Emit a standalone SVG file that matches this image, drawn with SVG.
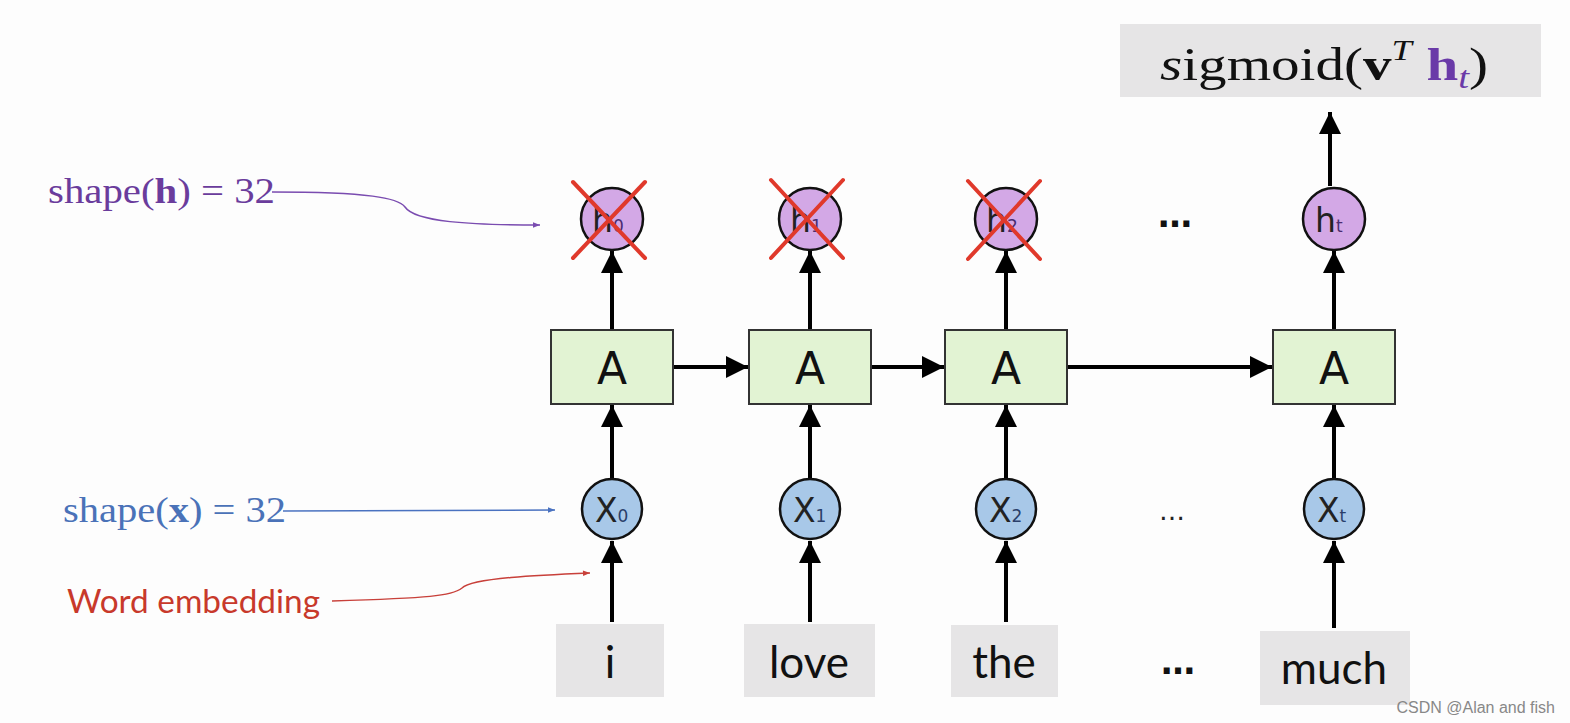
<svg xmlns="http://www.w3.org/2000/svg" width="1570" height="723" viewBox="0 0 1570 723">
<style>
.cell{fill:#e2f3d3;stroke:#333;stroke-width:2}
.hc{fill:#d3a8e6;stroke:#111;stroke-width:2.5}
.xc{fill:#a8c8e8;stroke:#111;stroke-width:2.5}
.word{fill:#e6e5e6}
.wt{font-family:Lato,"Open Sans",sans-serif;font-size:44px;fill:#111;text-anchor:middle}
.at{font-family:"DejaVu Sans",sans-serif;font-size:44px;fill:#111;text-anchor:middle}
.nt{font-family:"DejaVu Sans",sans-serif;font-size:33px;fill:#222}
.sub{font-size:17px}
.conn{stroke:#000;stroke-width:4;fill:none}
.cross{stroke:#e0392b;stroke-width:4;stroke-linecap:round}
.dots{font-family:"DejaVu Sans",sans-serif;font-size:34px;font-weight:bold;fill:#111;text-anchor:middle}
.dots-s{font-family:"DejaVu Sans",sans-serif;font-size:26px;fill:#222;text-anchor:middle}
.math{font-family:"Liberation Serif","DejaVu Serif",serif}
</style>
<defs>
<marker id="ah" viewBox="0 0 10 10" refX="10" refY="5" markerWidth="5.5" markerHeight="5.5" markerUnits="strokeWidth" orient="auto">
<path d="M0,0 L10,5 L0,10 z" fill="#000"/>
</marker>
<marker id="ap" viewBox="0 0 10 10" refX="10" refY="5" markerWidth="8" markerHeight="7" markerUnits="userSpaceOnUse" orient="auto">
<path d="M0,1 L10,5 L0,9 z" fill="#7a4cb0"/>
</marker>
<marker id="ab" viewBox="0 0 10 10" refX="10" refY="5" markerWidth="9" markerHeight="7" markerUnits="userSpaceOnUse" orient="auto">
<path d="M0,1 L10,5 L0,9 z" fill="#4a72c0"/>
</marker>
<marker id="ar" viewBox="0 0 10 10" refX="10" refY="5" markerWidth="9" markerHeight="7" markerUnits="userSpaceOnUse" orient="auto">
<path d="M0,1 L10,5 L0,9 z" fill="#c8403a"/>
</marker>
</defs>
<rect width="1570" height="723" fill="#fdfdfd"/>

<g id="connectors">
<line class="conn" x1="612" y1="622" x2="612" y2="541" marker-end="url(#ah)"/>
<line class="conn" x1="810" y1="622" x2="810" y2="541" marker-end="url(#ah)"/>
<line class="conn" x1="1006" y1="622" x2="1006" y2="541" marker-end="url(#ah)"/>
<line class="conn" x1="1334" y1="628" x2="1334" y2="541" marker-end="url(#ah)"/>
<line class="conn" x1="612" y1="478" x2="612" y2="405" marker-end="url(#ah)"/>
<line class="conn" x1="810" y1="478" x2="810" y2="405" marker-end="url(#ah)"/>
<line class="conn" x1="1006" y1="478" x2="1006" y2="405" marker-end="url(#ah)"/>
<line class="conn" x1="1334" y1="478" x2="1334" y2="405" marker-end="url(#ah)"/>
<line class="conn" x1="612" y1="330" x2="612" y2="251" marker-end="url(#ah)"/>
<line class="conn" x1="810" y1="330" x2="810" y2="251" marker-end="url(#ah)"/>
<line class="conn" x1="1006" y1="330" x2="1006" y2="251" marker-end="url(#ah)"/>
<line class="conn" x1="1334" y1="330" x2="1334" y2="251" marker-end="url(#ah)"/>
<line class="conn" x1="673" y1="367" x2="748" y2="367" marker-end="url(#ah)"/>
<line class="conn" x1="871" y1="367" x2="944" y2="367" marker-end="url(#ah)"/>
<line class="conn" x1="1067" y1="367" x2="1272" y2="367" marker-end="url(#ah)"/>
<line class="conn" x1="1330" y1="186" x2="1330" y2="112" marker-end="url(#ah)"/>
<path d="M272,192 C370,192 398,198 405,207 C415,222 470,225 540,225" fill="none" stroke="#7a4cb0" stroke-width="1.5" marker-end="url(#ap)"/>
<path d="M283,511 L555,510" fill="none" stroke="#4a72c0" stroke-width="1.5" marker-end="url(#ab)"/>
<path d="M332,601 C430,598 452,596 462,588 C472,578 540,575 590,573" fill="none" stroke="#c8403a" stroke-width="1.5" marker-end="url(#ar)"/>
</g>

<g id="sigmoid">
<rect x="1120" y="24" width="421" height="73" fill="#e6e5e6"/>
<text x="1160" y="80" class="math" font-size="47" fill="#111" textLength="328" lengthAdjust="spacingAndGlyphs"><tspan font-style="italic">s</tspan>igmoid(<tspan font-weight="bold">v</tspan><tspan font-style="italic" font-size="30" dy="-20">T</tspan><tspan dy="20" dx="12" font-weight="bold" fill="#6a3aa8">h</tspan><tspan font-style="italic" fill="#6a3aa8" font-size="32" dy="8">t</tspan><tspan dy="-8">)</tspan></text>
</g>

<g id="label-h">
<text x="48" y="203" class="math" font-size="35" fill="#6a3c9c" textLength="227" lengthAdjust="spacingAndGlyphs">shape(<tspan font-weight="bold">h</tspan>) = 32</text>
</g>
<g id="label-x">
<text x="63" y="522" class="math" font-size="35" fill="#4a72b8" textLength="223" lengthAdjust="spacingAndGlyphs">shape(<tspan font-weight="bold">x</tspan>) = 32</text>
</g>
<g id="label-we">
<text x="67" y="613" font-family="Lato,'Open Sans',sans-serif" font-size="32" fill="#c8392b" textLength="253" lengthAdjust="spacingAndGlyphs">Word embedding</text>
</g>

<g id="h0"><circle class="hc" cx="612" cy="219" r="31"/><text class="nt" x="592" y="232">h<tspan class="sub" fill="#4a2c70">0</tspan></text>
<line class="cross" x1="573" y1="182" x2="645" y2="258"/><line class="cross" x1="645" y1="182" x2="573" y2="258"/></g>
<g id="h1"><circle class="hc" cx="810" cy="219" r="31"/><text class="nt" x="790" y="232">h<tspan class="sub" fill="#4a2c70">1</tspan></text>
<line class="cross" x1="771" y1="180" x2="843" y2="258"/><line class="cross" x1="843" y1="180" x2="771" y2="258"/></g>
<g id="h2"><circle class="hc" cx="1006" cy="219" r="31"/><text class="nt" x="986" y="232">h<tspan class="sub" fill="#4a2c70">2</tspan></text>
<line class="cross" x1="968" y1="181" x2="1040" y2="259"/><line class="cross" x1="1040" y1="181" x2="968" y2="259"/></g>
<g id="ht"><circle class="hc" cx="1334" cy="219" r="31"/><text class="nt" x="1315" y="232">h<tspan class="sub" fill="#4a2c70">t</tspan></text></g>

<g id="A0"><rect class="cell" x="551" y="330" width="122" height="74"/><text class="at" x="612" y="384">A</text></g>
<g id="A1"><rect class="cell" x="749" y="330" width="122" height="74"/><text class="at" x="810" y="384">A</text></g>
<g id="A2"><rect class="cell" x="945" y="330" width="122" height="74"/><text class="at" x="1006" y="384">A</text></g>
<g id="At"><rect class="cell" x="1273" y="330" width="122" height="74"/><text class="at" x="1334" y="384">A</text></g>

<g id="x0"><circle class="xc" cx="612" cy="509" r="30"/><text class="nt" x="595" y="522">X<tspan class="sub" fill="#2a3f6a">0</tspan></text></g>
<g id="x1"><circle class="xc" cx="810" cy="509" r="30"/><text class="nt" x="793" y="522">X<tspan class="sub" fill="#2a3f6a">1</tspan></text></g>
<g id="x2"><circle class="xc" cx="1006" cy="509" r="30"/><text class="nt" x="989" y="522">X<tspan class="sub" fill="#2a3f6a">2</tspan></text></g>
<g id="xt"><circle class="xc" cx="1334" cy="509" r="30"/><text class="nt" x="1317" y="522">X<tspan class="sub" fill="#2a3f6a">t</tspan></text></g>

<g id="w-i"><rect class="word" x="556" y="624" width="108" height="73"/><text class="wt" x="610" y="678">i</text></g>
<g id="w-love"><rect class="word" x="744" y="624" width="131" height="73"/><text class="wt" x="809" y="678">love</text></g>
<g id="w-the"><rect class="word" x="951" y="625" width="107" height="72"/><text class="wt" x="1004" y="678">the</text></g>
<g id="w-much"><rect class="word" x="1260" y="631" width="150" height="74"/><text class="wt" x="1334" y="684">much</text></g>

<g id="dots">
<text class="dots" x="1175" y="227">…</text>
<text class="dots-s" x="1172" y="520">…</text>
<text class="dots" x="1178" y="674">…</text>
</g>
<text x="1555" y="713" text-anchor="end" font-family="'Liberation Sans',sans-serif" font-size="16" fill="#888">CSDN @Alan and fish</text>
</svg>
